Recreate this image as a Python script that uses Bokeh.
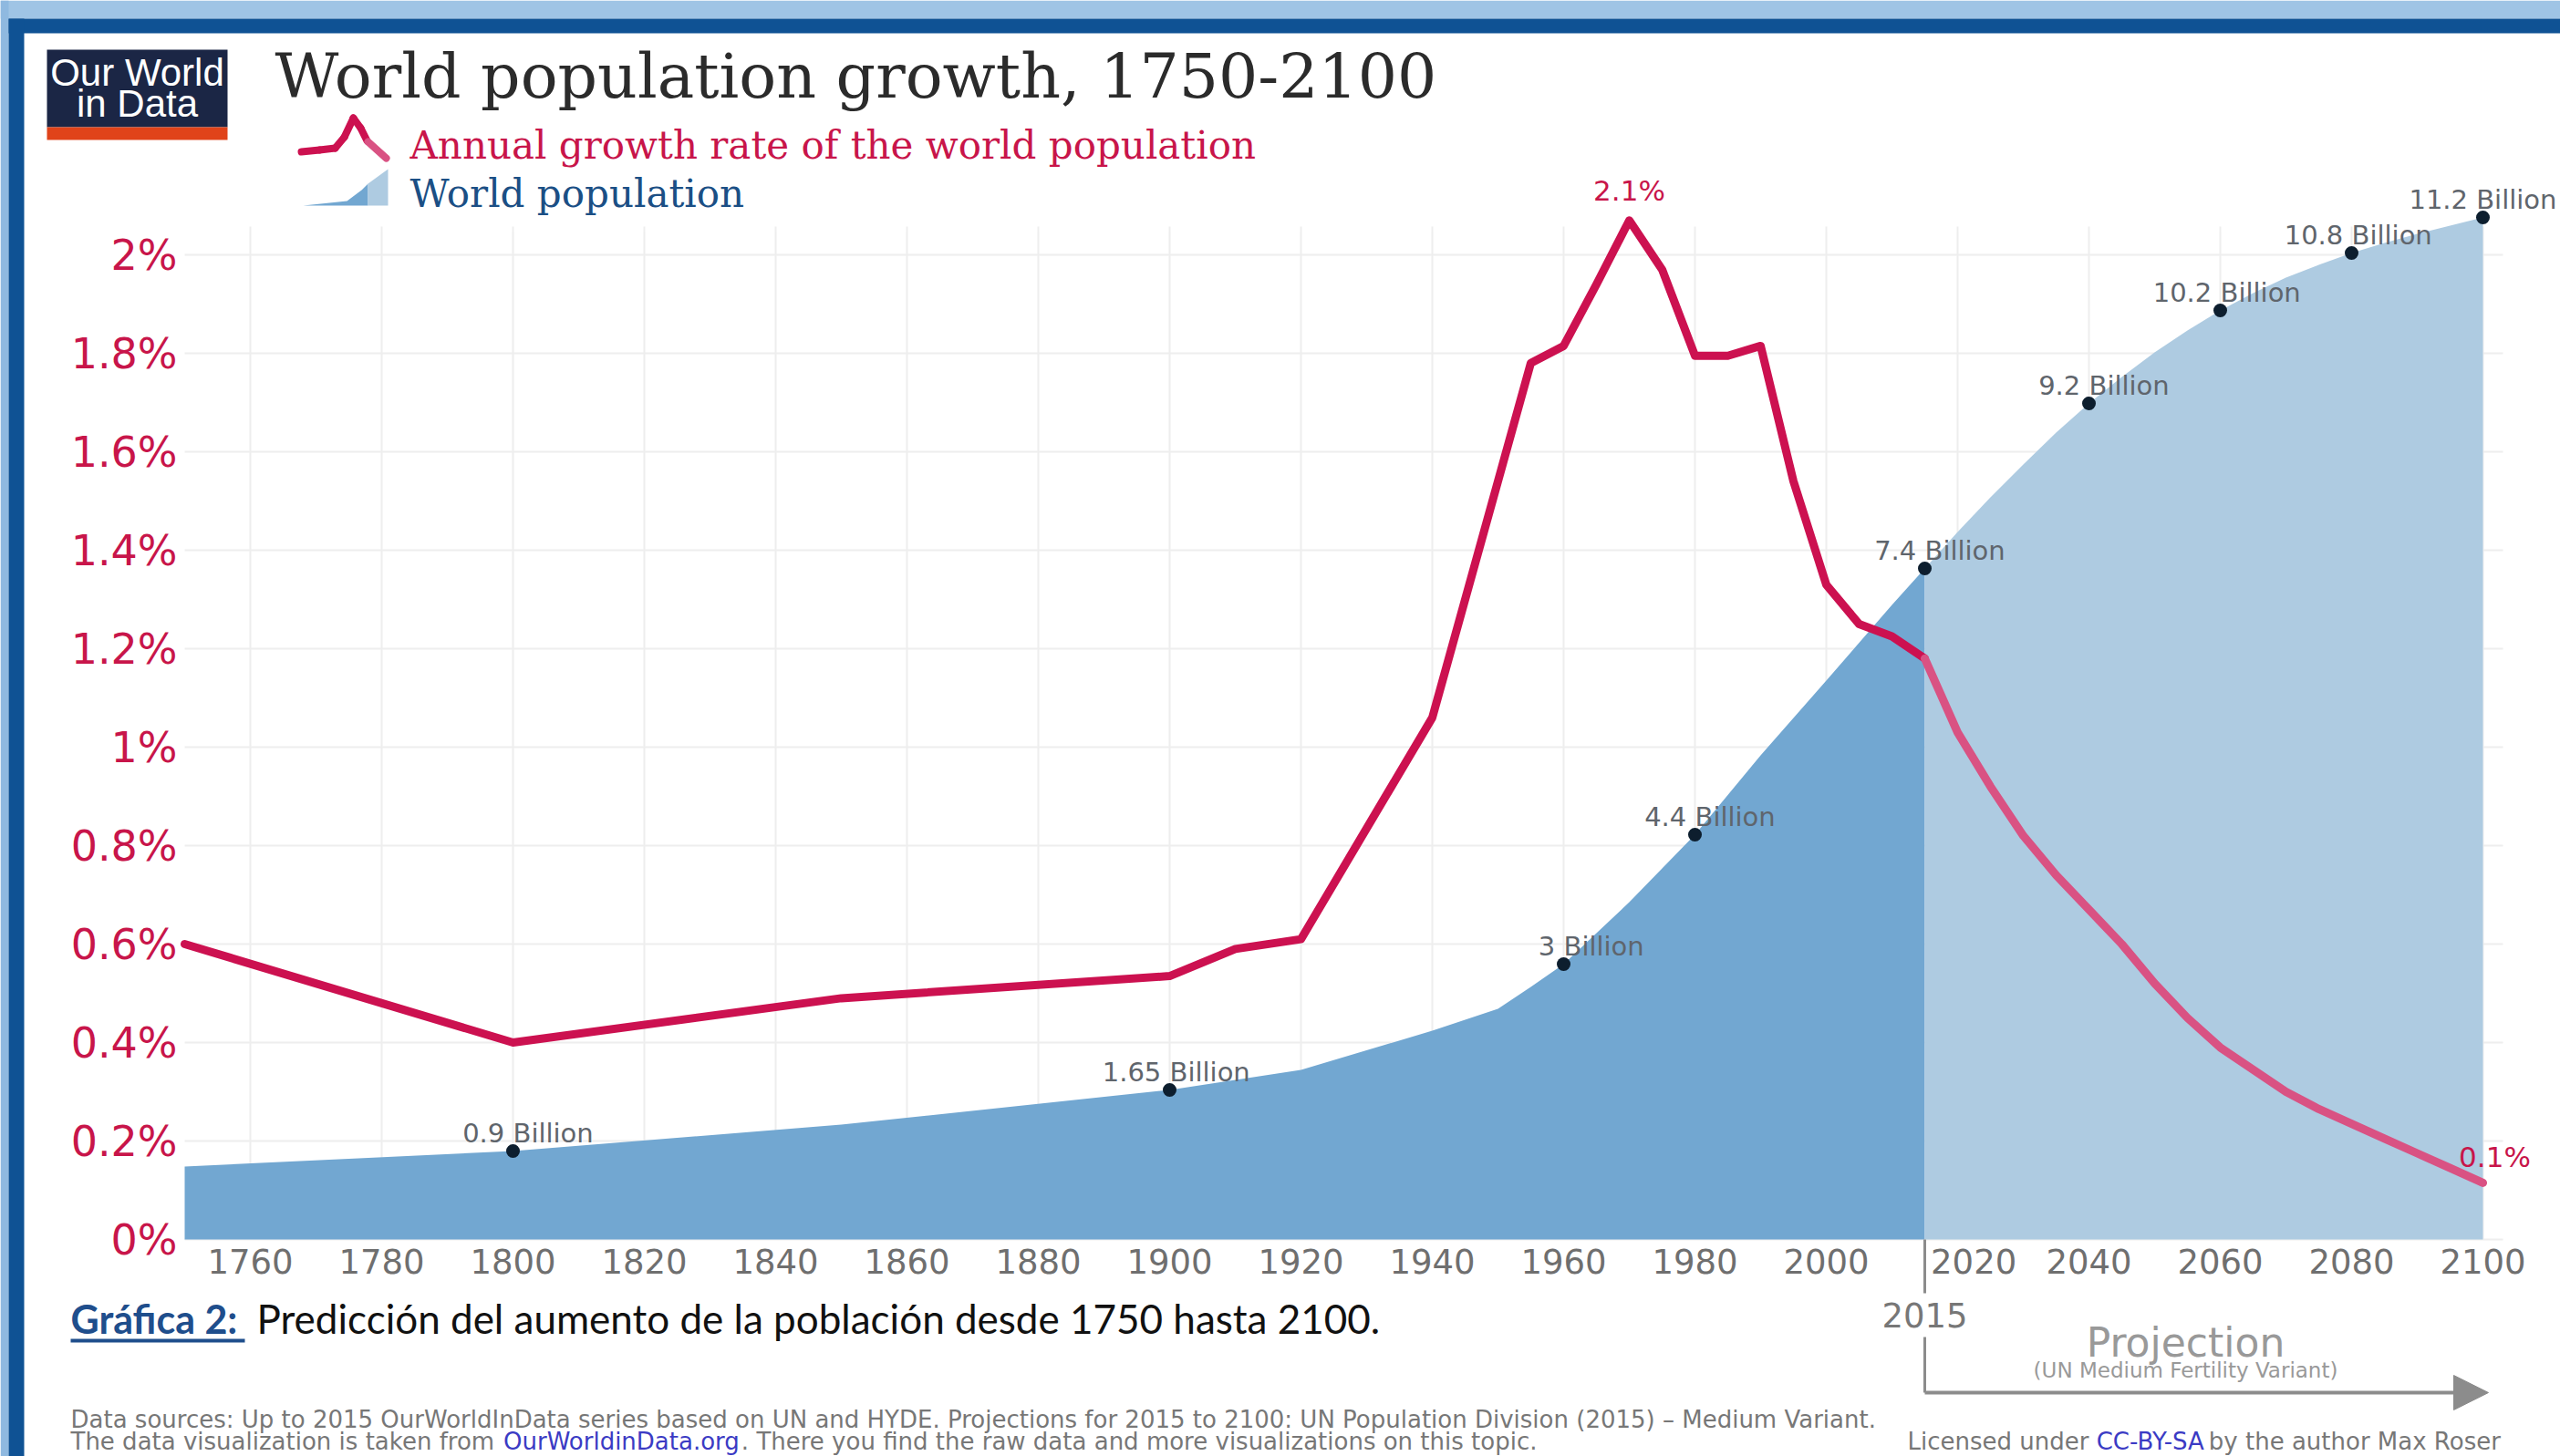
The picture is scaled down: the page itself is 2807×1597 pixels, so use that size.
from bokeh.plotting import figure
from bokeh.models import (Range1d, FixedTicker, ColumnDataSource, LabelSet, Label,
                          BoxAnnotation, Arrow, NormalHead, PolyAnnotation)
from bokeh.core.properties import value
from bokeh.embed import file_html
from bokeh.resources import INLINE

# ---------------- data ----------------
rate_years = [1750, 1800, 1850, 1900, 1910, 1920, 1940, 1955, 1960, 1965, 1970,
              1975, 1980, 1985, 1990, 1995, 2000, 2005, 2010, 2015]
rate_values = [0.60, 0.40, 0.49, 0.535, 0.59, 0.61, 1.06, 1.78, 1.815, 1.94, 2.07,
               1.97, 1.795, 1.795, 1.815, 1.54, 1.33, 1.25, 1.225, 1.18]

proj_rate_years = [2015, 2020, 2025, 2030, 2035, 2040, 2045, 2050, 2055, 2060,
                   2065, 2070, 2075, 2080, 2085, 2090, 2095, 2100]
proj_rate_values = [1.18, 1.03, 0.92, 0.82, 0.74, 0.67, 0.60, 0.52, 0.45, 0.39,
                    0.345, 0.30, 0.265, 0.235, 0.205, 0.175, 0.145, 0.115]

pop_years = [1750, 1800, 1850, 1900, 1920, 1940, 1950, 1955, 1960, 1970, 1980,
             1990, 2000, 2010, 2015]
pop_values = [0.80, 0.97, 1.26, 1.64, 1.86, 2.29, 2.53, 2.77, 3.02, 3.70, 4.44,
              5.31, 6.13, 6.96, 7.36]

proj_pop_years = [2015, 2020, 2025, 2030, 2035, 2040, 2045, 2050, 2055, 2060,
                  2065, 2070, 2075, 2080, 2085, 2090, 2095, 2100]
proj_pop_values = [7.36, 7.76, 8.14, 8.50, 8.85, 9.17, 9.46, 9.73, 9.97, 10.19,
                   10.38, 10.55, 10.69, 10.82, 10.93, 11.03, 11.12, 11.21]

milestone_years = [1800, 1900, 1960, 1980, 2015, 2040, 2060, 2080, 2100]
milestone_pop = [0.97, 1.64, 3.02, 4.44, 7.36, 9.17, 10.19, 10.82, 11.21]
milestone_labels = ["0.9 Billion", "1.65 Billion", "3 Billion", "4.4 Billion",
                    "7.4 Billion", "9.2 Billion", "10.2 Billion", "10.8 Billion",
                    "11.2 Billion"]

rate_label_years = [1970, 2100]
rate_label_values = [2.07, 0.115]
rate_labels = ["2.1%", "0.1%"]

x_ticks = [1760, 1780, 1800, 1820, 1840, 1860, 1880, 1900, 1920, 1940, 1960,
           1980, 2000, 2020, 2040, 2060, 2080, 2100]
x_tick_labels = ["1760", "1780", "1800", "1820", "1840", "1860", "1880", "1900",
                 "1920", "1940", "1960", "1980", "2000", "\u00a0\u00a0\u00a02020",
                 "2040", "2060", "2080", "2100"]
y_ticks = [0, 0.2, 0.4, 0.6, 0.8, 1.0, 1.2, 1.4, 1.6, 1.8, 2.0]
y_tick_labels = ["0%", "0.2%", "0.4%", "0.6%", "0.8%", "1%", "1.2%", "1.4%",
                 "1.6%", "1.8%", "2%"]

projection_start = 2015

title_text = "World population growth, 1750-2100"
legend_rate = "Annual growth rate of the world population"
legend_pop = "World population"
caption_head = "Gráfica 2:"
caption_body = "Predicción del aumento de la población desde 1750 hasta 2100."
source_line = ("Data sources:  Up to 2015 OurWorldInData series based on UN and HYDE. "
               "Projections for 2015 to 2100: UN Population Division (2015) \u2013 Medium Variant.")
credit_parts = ["The data visualization is taken from ", "OurWorldinData.org",
                ". There you find the raw data and more visualizations on this topic."]
license_parts = ["Licensed under ", "CC-BY-SA", " by the author Max Roser"]

# ---------------- layout ----------------
W, H = 2807, 1597
ORIGIN_X, BASE_Y = 202, 1359          # canvas pixel of (1750, 0%)
PX_PER_YEAR = 7.2
PX_PER_PCT = 540.0
PX_PER_BN = 100.0
X_START = 1750 - ORIGIN_X / PX_PER_YEAR
X_END = X_START + W / PX_PER_YEAR
Y_START = -(H - BASE_Y) / PX_PER_PCT
Y_END = Y_START + H / PX_PER_PCT
POP_START = -(H - BASE_Y) / PX_PER_BN
POP_END = POP_START + H / PX_PER_BN
GRID_TOP = (BASE_Y - 248) / PX_PER_PCT


def xpix(year):
    return ORIGIN_X + (year - 1750) * PX_PER_YEAR


# DejaVu Sans advance widths (em) for laying out multi-colour text runs
DV = {" ": .318, "A": .684, "B": .686, "C": .698, "D": .770, "L": .557, "M": .863,
      "O": .787, "R": .695, "S": .635, "T": .611, "W": .989, "Y": .611,
      "a": .613, "b": .635, "c": .550, "d": .635, "e": .615, "f": .352, "g": .635,
      "h": .634, "i": .278, "k": .579, "l": .278, "m": .974, "n": .634, "o": .612,
      "p": .635, "r": .411, "s": .521, "t": .392, "u": .634, "v": .592, "w": .818,
      "x": .592, "y": .592, "z": .525, ".": .318, "-": .361,
      "0": .636, "1": .636, "2": .636, "3": .636, "4": .636, "5": .636,
      "6": .636, "7": .636, "8": .636, "9": .636}


def dv_width(s, size):
    return sum(DV.get(c, .6) for c in s) * size


RED = "#cc1150"
PINK = "#d95283"
AREA_HIST = "#72a7d1"
AREA_PROJ = "#aecbe1"

p = figure(width=W, height=H, output_backend="svg", toolbar_location=None,
           title=None, x_range=Range1d(X_START, X_END), y_range=Range1d(Y_START, Y_END),
           min_border=0, min_border_left=0, min_border_right=0,
           min_border_top=0, min_border_bottom=0)
p.extra_y_ranges = {"pop": Range1d(POP_START, POP_END)}
p.outline_line_color = None
p.background_fill_color = "white"
p.border_fill_color = "white"

# axes drawn at fixed data locations inside the canvas
p.xaxis.fixed_location = 0
p.xaxis.ticker = FixedTicker(ticks=x_ticks)
p.xaxis.major_label_overrides = dict(zip(x_ticks, x_tick_labels))
p.xaxis.axis_line_color = None
p.xaxis.major_tick_line_color = None
p.xaxis.minor_tick_line_color = None
p.xaxis.major_tick_out = 0
p.xaxis.major_tick_in = 0
p.xaxis.major_label_standoff = 3
p.xaxis.major_label_text_font = "DejaVu Sans"
p.xaxis.major_label_text_font_size = "37px"
p.xaxis.major_label_text_color = "#6f6f6f"

p.yaxis.fixed_location = 1750
p.yaxis.ticker = FixedTicker(ticks=y_ticks)
p.yaxis.major_label_overrides = dict(zip(y_ticks, y_tick_labels))
p.yaxis.axis_line_color = None
p.yaxis.major_tick_line_color = None
p.yaxis.minor_tick_line_color = None
p.yaxis.major_tick_out = 0
p.yaxis.major_tick_in = 0
p.yaxis.major_label_standoff = 8
p.yaxis.major_label_text_font = "DejaVu Sans"
p.yaxis.major_label_text_font_size = "46px"
p.yaxis.major_label_text_color = "#c8154a"

p.xgrid.grid_line_color = "#eeeeee"
p.xgrid.grid_line_width = 2
p.xgrid.cross_bounds = (0, GRID_TOP)
p.ygrid.grid_line_color = "#eeeeee"
p.ygrid.grid_line_width = 2
p.ygrid.cross_bounds = (1750, 2103)

# population areas
p.varea(x=pop_years, y1=0, y2=pop_values, y_range_name="pop",
        fill_color=AREA_HIST, fill_alpha=1.0)
p.varea(x=proj_pop_years, y1=0, y2=proj_pop_values, y_range_name="pop",
        fill_color=AREA_PROJ, fill_alpha=1.0)

# growth-rate lines
p.line(rate_years, rate_values, line_color=RED, line_width=9,
       line_join="round", line_cap="round")
p.line(proj_rate_years, proj_rate_values, line_color=PINK, line_width=9,
       line_join="round", line_cap="round")

# milestone dots + labels
p.scatter(milestone_years, milestone_pop, y_range_name="pop", size=15,
          fill_color="#0d1e2e", line_color=None)

LBL_SIZE = 29
ms_xoff = []
for yr, s in zip(milestone_years, milestone_labels):
    off = -dv_width(s.split("B")[0], LBL_SIZE)
    overflow = xpix(yr) + off + dv_width(s, LBL_SIZE) - (W - 4)
    ms_xoff.append(off - max(0.0, overflow))
ms_src = ColumnDataSource(dict(x=milestone_years, y=milestone_pop,
                               t=milestone_labels, xo=ms_xoff))
p.add_layout(LabelSet(x="x", y="y", text="t", source=ms_src, y_range_name="pop",
                      x_offset="xo", y_offset=10, text_align="left",
                      text_baseline="alphabetic", text_font=value("DejaVu Sans"),
                      text_font_size=f"{LBL_SIZE}px", text_color="#5f656c"))

rl_src = ColumnDataSource(dict(x=rate_label_years, y=rate_label_values,
                               t=rate_labels, xo=[0, 13], yo=[22, 17]))
p.add_layout(LabelSet(x="x", y="y", text="t", source=rl_src, x_offset="xo",
                      y_offset="yo", text_align="center", text_baseline="alphabetic",
                      text_font=value("DejaVu Sans"), text_font_size="31px",
                      text_color="#c8154a"))


# ---------------- decorations (canvas units) ----------------
def cbox(l, r, t, b, color):
    p.add_layout(BoxAnnotation(left=l, right=r, top=t, bottom=b,
                               left_units="canvas", right_units="canvas",
                               top_units="canvas", bottom_units="canvas",
                               fill_color=color, fill_alpha=1.0, line_color=None,
                               level="overlay"))


BASELINE_FIX = 0.37   # canvas Labels render lower than the requested baseline


def clabel(text, x, y, size, color, font="DejaVu Sans", style="normal", align="left"):
    p.add_layout(Label(x=x, y=y - BASELINE_FIX * size, x_units="canvas", y_units="canvas",
                       text=text, text_font=font, text_font_size=f"{size}px",
                       text_color=color, text_font_style=style, text_align=align,
                       text_baseline="alphabetic", level="overlay"))


def cseg(x0, y0, x1, y1, color, width, head=None, cap="round"):
    p.add_layout(Arrow(end=head, x_start=x0, y_start=y0, x_end=x1, y_end=y1,
                       start_units="canvas", end_units="canvas",
                       line_color=color, line_width=width, line_cap=cap,
                       level="overlay"))


# window frame
cbox(0, W, 0, 20, "#9fc4e5")
cbox(0, 9, 0, H, "#8fb9e0")
cbox(9, W, 20, 36, "#0f5294")
cbox(9, 26, 20, H, "#0f5294")

# logo
cbox(51, 249, 54, 139, "#1b2645")
cbox(51, 249, 139, 153, "#e0431a")
clabel("Our World", 150, 95, 42, "white", font="Liberation Sans", align="center")
clabel("in Data", 150, 129, 42, "white", font="Liberation Sans", align="center")

# title & legend
clabel(title_text, 301, 108, 68, "#2b2b2b", font="DejaVu Serif")
clabel(legend_rate, 449, 175, 42, "#c8154a", font="DejaVu Serif")
clabel(legend_pop, 449, 228, 42, "#1b4f85", font="DejaVu Serif")

# legend icons
for (ax, ay, bx, by) in [(330, 166, 350, 164), (350, 164, 367, 162), (367, 162, 377, 150),
                         (377, 150, 387, 129), (387, 129, 395, 140), (395, 140, 402, 154)]:
    cseg(ax, ay, bx, by, RED, 8)
cseg(403, 155, 423, 173, PINK, 8)
p.add_layout(PolyAnnotation(xs=[332, 380, 396, 403, 403, 332], ys=[225, 220, 208, 201, 225, 225],
                            xs_units="canvas", ys_units="canvas", fill_color=AREA_HIST,
                            fill_alpha=1.0, line_color=None, level="overlay"))
p.add_layout(PolyAnnotation(xs=[403, 425, 425, 403], ys=[201, 185, 225, 225],
                            xs_units="canvas", ys_units="canvas", fill_color=AREA_PROJ,
                            fill_alpha=1.0, line_color=None, level="overlay"))

# projection marker
GRAY = "#8c8c8c"
px15 = xpix(projection_start)
cseg(px15, BASE_Y, px15, 1418, GRAY, 3, cap="butt")
cseg(px15, 1466, px15, 1527, GRAY, 3, cap="butt")
cseg(px15, 1527, xpix(2100) + 6, 1527, GRAY, 4, cap="butt",
     head=NormalHead(size=38, fill_color=GRAY, line_color=GRAY))
clabel(str(projection_start), px15, 1456, 37, "#777777", align="center")
clabel("Projection", 2396, 1488, 44, "#999999", align="center")
clabel("(UN Medium Fertility Variant)", 2396, 1511, 23, "#999999", align="center")

# caption
clabel(caption_head, 77, 1462, 43, "#1f4e8c", font="Lato", style="bold")
cbox(77, 268, 1468, 1472, "#1f4e8c")
clabel(caption_body, 281, 1462, 44, "#111111", font="Lato")

# footer
FOOT = 26
clabel(source_line, 77, 1566, FOOT, "#777777")
fx = 77
for part, col in zip(credit_parts, ["#777777", "#3b3bc4", "#777777"]):
    clabel(part, fx, 1590, FOOT, col)
    fx += dv_width(part, FOOT)
fx = 2091
for part, col in zip(license_parts, ["#777777", "#3b3bc4", "#777777"]):
    clabel(part, fx, 1590, FOOT, col)
    fx += dv_width(part, FOOT)

open("out.html", "w").write(file_html(p, INLINE))
